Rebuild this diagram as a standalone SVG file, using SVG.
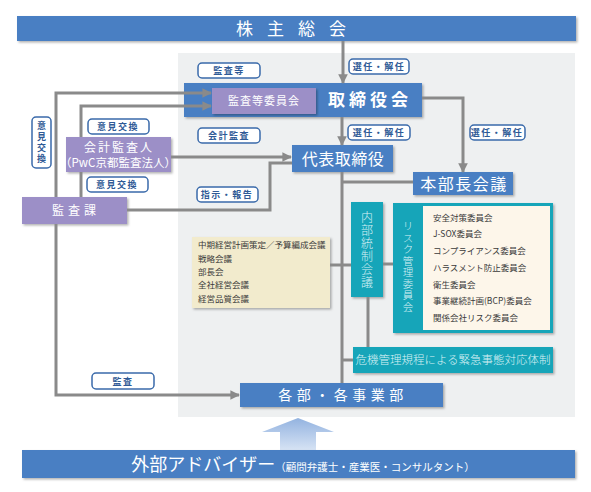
<svg xmlns="http://www.w3.org/2000/svg" width="591" height="492" viewBox="0 0 591 492">
<defs>
<filter id="sh" x="-10%" y="-10%" width="130%" height="140%"><feDropShadow dx="1.5" dy="1.5" stdDeviation="1" flood-color="#000" flood-opacity="0.3"/></filter>
<marker id="ah" viewBox="0 0 10 10" refX="9" refY="5" markerWidth="3.2" markerHeight="3.2" orient="auto" markerUnits="strokeWidth"><path d="M0,0 L10,5 L0,10 Z" fill="#8a8a8a"/></marker>
<linearGradient id="ag" x1="0" y1="0" x2="0" y2="1"><stop offset="0" stop-color="#93b3e0"/><stop offset="1" stop-color="#d6e3f4"/></linearGradient>
<style>
text{font-family:"Noto Sans CJK JP","Noto Sans",sans-serif}
.blue{fill:#4a7fc3}
.purple{fill:#9c8fc7}
.teal{fill:#17a5b9}
.wt{fill:#fff;text-anchor:middle}
.lt{fill:#d9f1f5;text-anchor:middle;font-weight:300}
.vt{writing-mode:vertical-rl;text-orientation:upright}
.lbl rect{fill:#fff;stroke:#3a6aaa;stroke-width:1.5}
.lbl text{fill:#2f5a96;font-size:9px;font-weight:bold;text-anchor:middle;letter-spacing:1.5px}
.item{fill:#3a3a3a;font-size:8.5px}
.conn path{fill:none;stroke:#8a8a8a;stroke-width:3}
.arr{marker-end:url(#ah)}
</style>
</defs>
<rect x="0" y="0" width="591" height="492" fill="#fff"/>
<rect id="panel" x="178" y="53" width="397" height="364" fill="#eef0f1"/>

<g id="kabunushi"><rect x="17" y="16" width="559" height="25" class="blue" filter="url(#sh)"/><text x="298" y="35" class="wt" font-size="17" letter-spacing="14">株主総会</text></g>

<g id="torishimari"><rect x="184" y="83" width="238" height="34" class="blue" filter="url(#sh)"/><text x="370" y="106" class="wt" font-size="17" font-weight="bold" letter-spacing="4">取締役会</text></g>
<g id="kansatou-iinkai"><rect x="212" y="88" width="104" height="26" class="purple" filter="url(#sh)"/><text x="264" y="105" class="wt" font-size="11" letter-spacing="1">監査等委員会</text></g>

<g id="daihyo"><rect x="292" y="145" width="101" height="27" class="blue" filter="url(#sh)"/><text x="343" y="165" class="wt" font-size="16" letter-spacing="0.5">代表取締役</text></g>
<g id="honbucho"><rect x="413" y="172" width="100" height="23" class="blue" filter="url(#sh)"/><text x="464" y="190" class="wt" font-size="16" letter-spacing="1.5">本部長会議</text></g>

<g id="kaikei-kansanin"><rect x="66" y="137" width="105" height="35" class="purple" filter="url(#sh)"/><text x="119" y="152" class="wt" font-size="12" letter-spacing="2">会計監査人</text><text x="118" y="167" class="wt" font-size="11.5">（PwC京都監査法人）</text></g>
<g id="kansaka"><rect x="22" y="197" width="105" height="27" class="purple" filter="url(#sh)"/><text x="76" y="215" class="wt" font-size="12" letter-spacing="4">監査課</text></g>

<g id="kaigi"><rect x="192" y="237" width="138" height="71" fill="#f2ebcd" filter="url(#sh)"/>
<text class="item" x="198" y="248">中期経営計画策定／予算編成会議</text>
<text class="item" x="198" y="262">戦略会議</text>
<text class="item" x="198" y="275">部長会</text>
<text class="item" x="198" y="288">全社経営会議</text>
<text class="item" x="198" y="302">経営品質会議</text></g>

<g id="naibutosei"><rect x="351" y="202" width="32" height="95" class="teal" filter="url(#sh)"/>
<text class="lt vt" font-size="12" letter-spacing="1" x="367" y="250">内部統制会議</text></g>

<g id="risk"><rect x="393" y="203" width="160" height="130" class="teal" filter="url(#sh)"/><rect x="423" y="206" width="127" height="124" fill="#fdf6ea"/>
<text class="lt vt" font-size="10.5" letter-spacing="1" x="408" y="267">リスク管理委員会</text>
<text class="item" x="433" y="221">安全対策委員会</text>
<text class="item" x="433" y="237">J-SOX委員会</text>
<text class="item" x="433" y="254">コンプライアンス委員会</text>
<text class="item" x="433" y="271">ハラスメント防止委員会</text>
<text class="item" x="433" y="288">衛生委員会</text>
<text class="item" x="433" y="304">事業継続計画(BCP)委員会</text>
<text class="item" x="433" y="321">関係会社リスク委員会</text></g>

<g id="kiki"><rect x="353" y="347" width="200" height="26" class="teal" filter="url(#sh)"/><text x="453" y="364" class="lt" font-size="11.5">危機管理規程による緊急事態対応体制</text></g>

<g id="kakubu"><rect x="240" y="383" width="203" height="24" class="blue" filter="url(#sh)"/><text x="343" y="400" class="wt" font-size="14" letter-spacing="4.5">各部・各事業部</text></g>

<g id="big-arrow"><path d="M298,418 L334,432 L316,432 L316,450 L280,450 L280,432 L262,432 Z" fill="url(#ag)"/></g>

<g id="gaibu"><rect x="22" y="450" width="553" height="28" class="blue" filter="url(#sh)"/><text x="303" y="471" class="wt"><tspan font-size="18">外部アドバイザー</tspan><tspan font-size="10.5">（顧問弁護士・産業医・コンサルタント）</tspan></text></g>

<g class="conn" id="connectors">
<path class="arr" d="M343,41 V83"/>
<path class="arr" d="M342,117 V145"/>
<path class="arr" d="M422,98 H463 V172"/>
<path class="arr" d="M56,197 V93 H211"/>
<path class="arr" d="M56,224 V395 H239"/>
<path class="arr" d="M81,137 V106 H211"/>
<path d="M81,172 V197"/>
<path class="arr" d="M171,157 H291"/>
<path d="M127,210 H270 V163 H292"/>
<path d="M342,172 V383"/>
<path d="M342,182 H413"/>
<path d="M330,265 H351"/>
<path d="M383,264 H393"/>
<path d="M368,297 V347"/>
<path d="M342,360 H353"/>
</g>

<g class="lbl" id="labels">
<g><rect x="349" y="59" width="60" height="15" rx="4"/><text x="379" y="70">選任・解任</text></g>
<g><rect x="198" y="63" width="62" height="15" rx="4"/><text x="229" y="74">監査等</text></g>
<g><rect x="198" y="128" width="62" height="15" rx="4"/><text x="229" y="139">会計監査</text></g>
<g><rect x="348" y="125" width="62" height="15" rx="4"/><text x="379" y="136">選任・解任</text></g>
<g><rect x="470" y="125" width="55" height="15" rx="4"/><text x="497" y="136">選任・解任</text></g>
<g><rect x="88" y="119" width="61" height="15" rx="4"/><text x="118" y="130">意見交換</text></g>
<g><rect x="87" y="177" width="61" height="15" rx="4"/><text x="117" y="188">意見交換</text></g>
<g><rect x="197" y="187" width="61" height="15" rx="4"/><text x="227" y="198">指示・報告</text></g>
<g><rect x="92" y="373" width="62" height="16" rx="4"/><text x="123" y="385">監査</text></g>
<g><rect x="32" y="117" width="19" height="51" rx="4"/><text class="vt" x="41.5" y="143" style="letter-spacing:2px">意見交換</text></g>
</g>
</svg>
